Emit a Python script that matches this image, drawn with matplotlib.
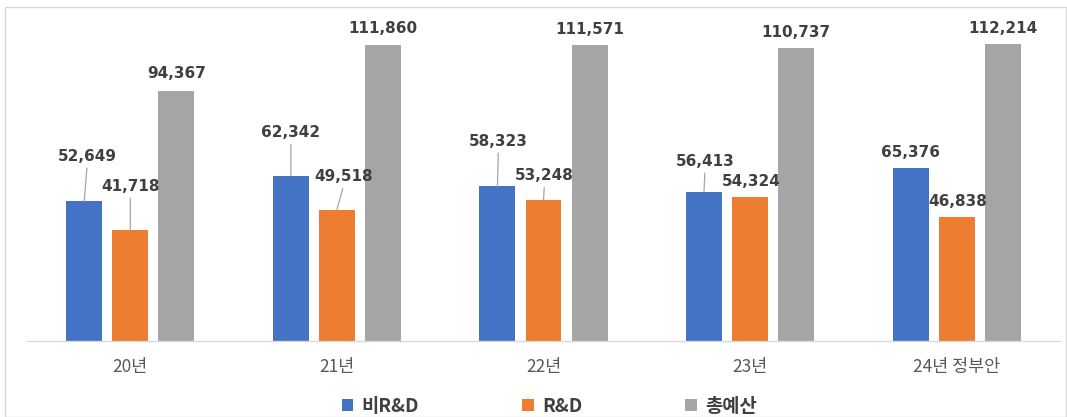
import matplotlib
matplotlib.use("Agg")
import matplotlib.pyplot as plt
from matplotlib.patches import Patch, Rectangle
import numpy as np

plt.rcParams['font.family'] = ['Noto Sans CJK KR', 'DejaVu Sans']

categories = ['20년', '21년', '22년', '23년', '24년 정부안']
series_names = ['비R&D', 'R&D', '총예산']
non_rnd = [52649, 62342, 58323, 56413, 65376]
rnd = [41718, 49518, 53248, 54324, 46838]
total = [94367, 111860, 111571, 110737, 112214]
colors = ['#4472C4', '#ED7D31', '#A5A5A5']

# label offsets (pixels) relative to bar top centre: (dx, dy)
label_dx = [[3, 0, 1, 1, 0], [0, 7, 1, 1, 1], [0, 0, 0, 0, 0]]
label_dy = [[45, 43, 45, 30, 15], [44, 33, 24, 16, 15], [17, 16, 16, 15, 15]]

fig = plt.figure(figsize=(10.67, 4.17), dpi=100)
fig.patches.append(Rectangle((5 / 1067, 0), 1 - 5 / 1067 - 0.0005, 1 - 7 / 417,
                             transform=fig.transFigure, fill=False,
                             edgecolor='#d9d9d9', linewidth=1.0))
ax = fig.add_axes([27 / 1067, 1 - 341 / 417, (1060 - 27) / 1067, (341 - 23) / 417])

x = np.arange(len(categories))
width = 0.174
step = 0.223
data = [non_rnd, rnd, total]
for i, (vals, col) in enumerate(zip(data, colors)):
    xs = x + (i - 1) * step
    ax.bar(xs, vals, width=width, color=col, zorder=2)
    for j, (xx, v) in enumerate(zip(xs, vals)):
        dx, dy = label_dx[i][j], label_dy[i][j]
        arrow = None
        if dy > 22:
            arrow = dict(arrowstyle='-', color='#a6a6a6', lw=0.9,
                         shrinkA=1, shrinkB=0, relpos=(0.5, 0.0))
        ax.annotate(f'{v:,}', xy=(xx, v), xytext=(dx, dy),
                    textcoords='offset pixels', ha='center', va='center',
                    fontsize=11, fontweight='bold', color='#404040',
                    fontfamily='DejaVu Sans', arrowprops=arrow, zorder=3)

ax.set_xlim(-0.5, len(categories) - 0.5)
ax.set_ylim(0, 120000)
ax.set_yticks([])
ax.set_xticks(x)
ax.set_xticklabels(categories, fontsize=12.5, color='#595959', fontweight=500)
ax.tick_params(axis='x', length=0, pad=12)
for s in ['top', 'right', 'left']:
    ax.spines[s].set_visible(False)
ax.spines['bottom'].set_color('#d9d9d9')
ax.spines['bottom'].set_linewidth(1.0)

handles = [Patch(facecolor=c, edgecolor='none') for c in colors]
leg = fig.legend(handles, series_names, loc='center', ncol=3,
                 bbox_to_anchor=(0.515, 1 - 406 / 417), frameon=False,
                 handlelength=0.6, handleheight=0.6, handletextpad=0.45,
                 columnspacing=5.5,
                 prop={'family': ['Noto Sans CJK KR', 'DejaVu Sans'],
                       'size': 13.5, 'weight': 'bold'})
for t in leg.get_texts():
    t.set_color('#404040')

fig.savefig('out.png', dpi=100)
